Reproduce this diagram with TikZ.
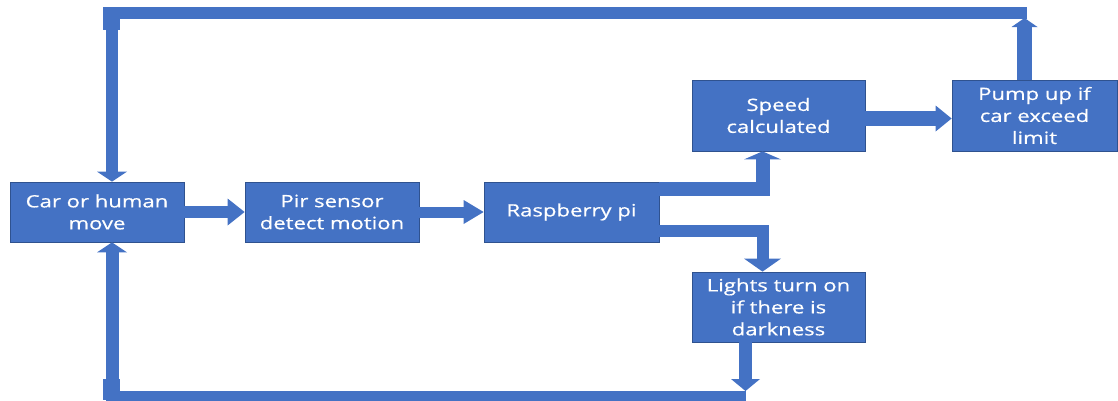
\documentclass[tikz,border=0pt]{standalone}
\usepackage{fontspec}
\newfontfamily\boxfont{Open Sans}[FakeStretch=1.3,FakeBold=0.6]
\usetikzlibrary{arrows.meta,calc}
\definecolor{boxfill}{HTML}{4472C4}
\definecolor{boxline}{HTML}{2F528F}
\begin{document}
\begin{tikzpicture}[x=1pt,y=-1pt,
  box/.style={rectangle, fill=boxfill, draw=boxline, line width=0.8pt, text=white,
    font=\boxfont\fontsize{17}{22}\selectfont, align=center, inner sep=0pt},
  fl/.style={draw=boxfill, line width=#1, line join=miter},
  tip/.style 2 args={-{Triangle[width=#1,length=#2,line width=0pt]}}]
\useasboundingbox (0,0) rectangle (1118,400);

\node[box, minimum width=174pt, minimum height=60pt] (car) at (97,212) {Car or human\\move};
\node[box, minimum width=174pt, minimum height=60pt] (pir) at (332,212) {Pir sensor\\detect motion};
\node[box, minimum width=175pt, minimum height=60pt] (rasp) at (571.5,212) {Raspberry pi};
\node[box, minimum width=173pt, minimum height=71pt] (speed) at (778.5,115.5) {Speed\\calculated};
\node[box, minimum width=165pt, minimum height=71pt] (pump) at (1034.5,115.5) {Pump up if\\car exceed\\limit};
\node[box, minimum width=173pt, minimum height=70pt] (lights) at (778.5,307) {Lights turn on\\if there is\\darkness};

\coordinate (topR) at (1024.5,18);
\coordinate (topE) at (1027,12.5);
\coordinate (botR) at (745.5,391);
\coordinate (botE) at (745.5,397.5);

\draw[fl=12pt, tip={27pt}{17pt}] (car.east) -- (pir.west);
\draw[fl=11pt, tip={24pt}{20pt}] (pir.east) -- (rasp.west);
\draw[fl=14pt, tip={37pt}{8pt}] ($(rasp.north east)+(0,7)$) -| ($(speed.south)+(-16,0)$);
\draw[fl=12pt, tip={37pt}{13pt}] ($(rasp.south east)+(0,-11.5)$) -| ($(lights.north)+(-16,0)$);
\draw[fl=15pt, tip={26pt}{16pt}] ($(speed.east)+(0,3)$) -- ($(pump.west)+(0,3)$);
\draw[fl=15pt, tip={26pt}{9pt}] ($(pump.north)+(-10,0)$) -- (topR);
\draw[fl=12pt, tip={30pt}{10pt}] (topE) -| ($(car.north)+(15,0)$);
\draw[fl=13pt, tip={29pt}{12pt}] ($(lights.south)+(-33,0)$) -- (botR);
\draw[fl=13pt, tip={30pt}{10pt}] (botE) -| ($(car.south)+(15,0)$);
\fill[boxfill] (103,7) rectangle (120,30);
\fill[boxfill] (103,379) rectangle (120,400);
\end{tikzpicture}
\end{document}
